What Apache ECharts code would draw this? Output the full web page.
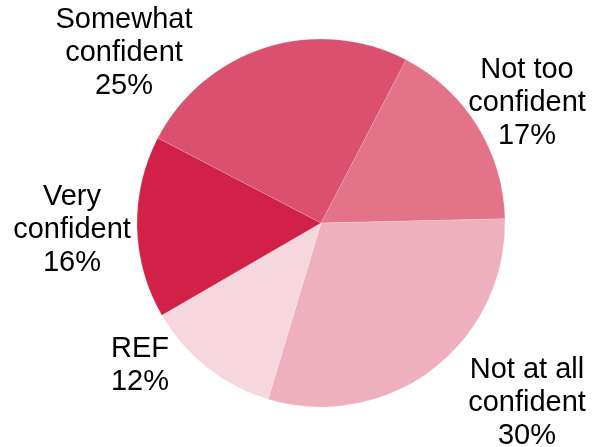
<!DOCTYPE html>
<html>
<head>
<meta charset="utf-8">
<script src="https://cdn.jsdelivr.net/npm/echarts@6/dist/echarts.min.js"></script>
<style>
html,body{margin:0;padding:0;background:#fff;}
#chart{width:592px;height:447px;}
</style>
</head>
<body>
<div id="chart"></div>
<script>
// Data (clockwise from the top-right slice)
const categories = ["Not too\nconfident", "Not at all\nconfident", "REF", "Very\nconfident", "Somewhat\nconfident"];
const values = [17, 30, 12, 16, 25];
const colors = ["#E27389", "#EEB0BE", "#F6D7DE", "#D12147", "#D9516E"];

// Label anchor positions (style/layout, not data)
const labelPos = [[527, 103], [527, 403], [140, 365], [72, 230], [124, 53]];

const chart = echarts.init(document.getElementById('chart'), null, {renderer: 'canvas'});
chart.setOption({
  animation: false,
  backgroundColor: '#ffffff',
  series: [{
    type: 'pie',
    center: [321, 223],
    radius: 184,
    startAngle: 62.5,
    clockwise: true,
    avoidLabelOverlap: false,
    silent: true,
    itemStyle: {borderColor: 'rgba(255,255,255,0.5)', borderWidth: 0.3},
    label: {
      show: true,
      position: 'outside',
      formatter: p => p.name + '\n' + p.value + '%',
      fontFamily: 'Liberation Sans, Arial, sans-serif',
      fontSize: 29,
      lineHeight: 33,
      color: '#000000',
      align: 'center'
    },
    labelLine: {show: false},
    labelLayout: function (params) {
      const pos = labelPos[params.dataIndex];
      return {x: pos[0], y: pos[1], align: 'center', verticalAlign: 'middle'};
    },
    data: categories.map((c, i) => ({name: c, value: values[i], itemStyle: {color: colors[i]}}))
  }]
});
</script>
</body>
</html>
